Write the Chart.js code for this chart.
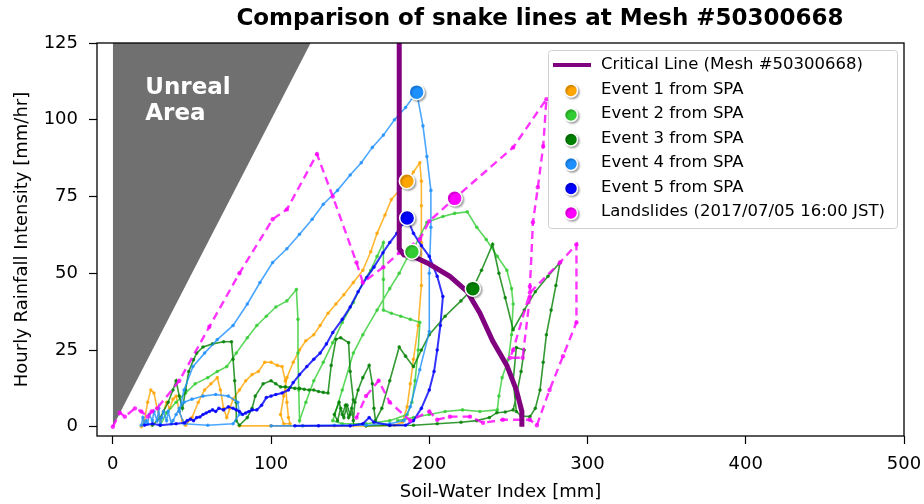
<!DOCTYPE html>
<html><head><meta charset="utf-8">
<script src="https://cdn.jsdelivr.net/npm/chart.js@4.4.1/dist/chart.umd.min.js"></script>
<style>html,body{margin:0;padding:0;background:#fff}#wrap{width:924px;height:504px}</style>
</head><body><div id="wrap"><canvas id="c" width="924" height="504"></canvas></div>
<script>
// ---- data (SWI [mm], hourly rainfall [mm/hr]) ----
const xTicks = [0, 100, 200, 300, 400, 500];
const yTicks = [0, 25, 50, 75, 100, 125];
const unrealX = [0, 125];
const unrealY = [0, 125];
const critX = [181, 181, 184, 190, 200, 213, 224, 232, 240, 249, 255, 258.5, 258.5];
const critY = [125, 58, 56, 55.5, 53, 49, 44, 37, 28, 20, 12, 5, 0];

const e1X = [18,20,22,24,26,28,30,32,34,36,38,40,42,44,46,50,54,58,62,66,68,70,72,74,76,80,84,88,92,96,100,104,107,109,110,111,112,108,106,108,110,114,118,122,127,131,136,141,146,152,158,163,167,172,176,181,186,190,194,195,195,195,195,193,190,188,186,183,178,160,140,120,100,80];
const e1Y = [0,2,8,12,11,6,2,5,8,6,9,10,5,2,0.5,3,8,12,14,16,12,6,3,6,9,12,15,17,18,21,21,20,19.6,15,8,3,1,1,4,10,16,21,25,28,30,33,37,40,43,47,51,57,63,69,74,77,80,83,86,80,72,60,46,33,22,14,6.5,1.5,0.5,0.3,0.3,0.3,0.3,0.3];

const e2X = [30,34,40,46,52,60,66,72,78,85,91,97,103,110,116,117,117,117.5,118,122,127,133,139,145,152,158,163,167,171,171,171,176,182,188,194,193,191,189,186,175,160,145,139,145,152,158,167,175,181,186,189,198.5,208.6,216,224,230,236,243,249,252,253,252,250,246,244,243,232,221,210,200,190,180];
const e2Y = [0.5,4.6,8,11,14,16,18,19.6,24,29,33,36,39,41,44.7,35,24,12,2,8,15,21,27.4,34,40.5,47,51,55.5,60,48,38,37,36,35,34,25,15,8,4,2,1,1,2,12,24,30,38,45,50,55,57,66.6,68.5,69.5,70,65,61,55.5,51,45,40,30,22,16,10,5.5,5,5.5,5,4,3,2];

const e3X = [25,30,35,38,40,42,44,46,48,51,53,57,63,70,75,76,77,78,78,80,85,88,90,95,100,103,106,109,112,115,118,121,124,127,130,133,136,138,141,144,149,150,152,150,148,146,144,142,140,143,145,147,149,151,152,153,155,158,162,164,165,166,170,175,181,185,190,195,200,210,220,227.5,233,240,244,248,253,260,267,275,282.6,280,277,274,272,270,267,263.6,258,255,253,255,260,258,255,253,248,242.7,238,230,220,205,190,175,160];
const e3Y = [0.5,3,8,12,15,10,6,12,18,21.8,24,26,27,27.7,27.7,22,15,8,2,0.5,3,6,10,14,15,14,13,13,12.8,12.5,12.5,12.2,12,12,11.5,11.2,11,20,28.5,29,27.4,18,8.8,4,7,3,6,2,4,8,4,7,3,6,2,8,12,16,20,14,6,2,6,15,26,23,19.6,25,30,36,41,45,51,59.4,50,42,31.6,38,44,49,53.5,46,38,30,21,12,6,3.3,3.5,5,15,25.8,25,18,10,5.5,4.8,4.6,3,2,1.5,1,0.5,0.4,0.3];

const e4X = [18,19,20,21,22,23,25,26,28,29,30,31,32,34,35,37,38,40,42,45,50,57,65,73,79,80,76,60,45,42,45,50.6,58,66,76,85,93,101,110,118,126,133,142,150,157,164,171,178,185,192,196,198.5,201,201,200,200,194,188,184,175,160,140,120,100];
const e4Y = [0.5,3,1,2,1,4,2,5,2,6,1,3,5,2,5,1,2,4,6,8,9,10,10.5,10,8,4,1,0.5,1,5,12,19.6,24,28.4,33,40,47,53.5,58,62.7,67.6,72.5,77,82,86,91,95,100,104,109,98,88,77,65,50,31,18.6,6.5,2,1,0.5,0.5,0.3,0.3];

const e5X = [20,25,30,40,45.5,47,49,51,53,55,57,59,61,63,65,67,70,73,76,78,80,82,84,86,88,91,94,97,100,103,107,111,114,118,122.6,127,131,135,139,145,150,155,160.5,165,170.7,175,179.5,183,186,190,195,200,205,208.6,207,205,203,200,195,190,185,175,165,162,158,150,130,115];
const e5Y = [0.5,1,0.5,1,1.3,2,2.5,2,3,3.2,4,4.5,5,5.5,5,6,5.5,6.5,6,5.5,5,4,4.5,5,5.5,5.5,7,9.5,10,10.5,11,12,14.4,17,19.6,22,24,27,30.7,35,39,44,48.6,52,56.7,60,63,66,68,63,59,55.5,49,42.4,33,25,18,12,6,2,0.5,0.5,1.5,3,1,0.3,0.3,0.3];

const lsX = [0,4.4,7.6,14,18,22,24.6,28,42,61,80,101,110,129,139,154,158,171,181,194,200,216,253,274,272,268.6,265.5,263.6,263.6,259,251,253,263.6,282.6,293,293,284.5,276,268,263.6,246.5,234,225.7,213,205,200,188,175,168,160,154];
const lsY = [0,4.6,3.3,6,5,3.3,5,6,15,32.6,50,67.6,70.8,88.8,75,53.5,47,52,56.7,61,67,74.4,91,106.7,91.4,78,66.6,45.7,42.4,22.5,22.5,25,43.7,53.5,59.4,34,23,12,0.5,2.3,2.3,1.3,3.3,3.3,2.3,5,2,8,15,10,3];

// highlighted points of each snake line
const markX = [185.8, 189, 227.5, 192, 186, 216];
const markY = [80, 57, 45, 109, 68, 74.4];

const labels = ['Critical Line (Mesh #50300668)','Event 1 from SPA','Event 2 from SPA','Event 3 from SPA','Event 4 from SPA','Event 5 from SPA','Landslides (2017/07/05 16:00 JST)'];
const colors = {purple:'#800080', orange:'#FFA500', lime:'#32CD32', green:'#008000', dodger:'#1E90FF', blue:'#0000FF', magenta:'#FF00FF'};

function zip(xs, ys){ return xs.map((x,i)=>({x:x, y:ys[i]})); }
function rgba(hex,a){ const n=parseInt(hex.slice(1),16); return `rgba(${n>>16},${(n>>8)&255},${n&255},${a})`; }

function snake(key, xs, ys, order, extra){
  const c = colors[key];
  return Object.assign({
    data: zip(xs, ys), showLine: true, borderColor: rgba(c,0.8), backgroundColor: rgba(c,0.8),
    borderWidth: 1.6, pointRadius: 1.8, pointBorderWidth: 0, tension: 0, order: order, clip: false
  }, extra||{});
}
const markerKeys = ['orange','lime','green','dodger','blue','magenta'];
const markerSets = markX.map((x,i)=>({
  data:[{x:x,y:markY[i]}], showLine:false, pointRadius:7.5, pointBorderColor:'#fff', pointBorderWidth:1.5,
  pointBackgroundColor: colors[markerKeys[i]], order: 0, isMarker:true
}));

const datasets = [
  ...markerSets,
  {data: zip(critX, critY), showLine:true, borderColor: colors.purple, borderWidth:5, pointRadius:0, order:1, borderCapStyle:'butt'},
  snake('magenta', lsX, lsY, 2, {borderDash:[8,5], borderWidth:2.4, pointRadius:2.2}),
  snake('blue', e5X, e5Y, 3, {borderWidth:2}),
  snake('dodger', e4X, e4Y, 4),
  snake('green', e3X, e3Y, 5),
  snake('lime', e2X, e2Y, 6),
  snake('orange', e1X, e1Y, 7),
  {data: zip(unrealX, unrealY), showLine:true, borderWidth:0, pointRadius:0, fill:'end', backgroundColor:'#707070', borderColor:'#707070', order:20}
];

const FONT = "'DejaVu Sans', sans-serif";

const deco = {
  id:'deco',
  beforeDatasetDraw(chart, args){
    const ds = chart.data.datasets[args.index];
    if (ds.isMarker){ const ctx=chart.ctx; ctx.save(); ctx.shadowColor='rgba(0,0,0,0.3)'; ctx.shadowOffsetX=1.5; ctx.shadowOffsetY=1.5; ctx.shadowBlur=2; }
  },
  afterDatasetDraw(chart, args){
    const ds = chart.data.datasets[args.index];
    if (ds.isMarker){ chart.ctx.restore(); }
    if (ds.fill === 'end'){
      const ctx = chart.ctx, xs = chart.scales.x, ys = chart.scales.y;
      ctx.save(); ctx.fillStyle='#fff'; ctx.font="bold 23px "+FONT; ctx.textAlign='left'; ctx.textBaseline='alphabetic';
      ctx.fillText('Unreal', xs.getPixelForValue(20.5), ys.getPixelForValue(108.5));
      ctx.fillText('Area', xs.getPixelForValue(20.5), ys.getPixelForValue(100));
      ctx.restore();
    }
  },
  afterDraw(chart){
    const ctx = chart.ctx, a = chart.chartArea;
    ctx.save();
    ctx.strokeStyle='#000'; ctx.lineWidth=1.3;
    ctx.strokeRect(a.left, a.top, a.right-a.left, a.bottom-a.top);
    // title
    ctx.fillStyle='#000'; ctx.font="bold 23px "+FONT; ctx.textAlign='center'; ctx.textBaseline='middle';
    ctx.fillText('Comparison of snake lines at Mesh #50300668', 540, 19);
    // legend
    const lx=548, ly=50, lw=349, lh=178;
    ctx.fillStyle='rgba(255,255,255,0.85)'; ctx.strokeStyle='#d0d0d0'; ctx.lineWidth=1;
    ctx.beginPath(); if (ctx.roundRect) ctx.roundRect(lx+0.5,ly+0.5,lw,lh,3); else ctx.rect(lx+0.5,ly+0.5,lw,lh); ctx.fill(); ctx.stroke();
    const keys=['purple',...markerKeys];
    ctx.font="16.5px "+FONT; ctx.textAlign='left'; ctx.textBaseline='middle';
    for (let i=0;i<labels.length;i++){
      const y = ly+15+i*24.5;
      if (i===0){ ctx.strokeStyle=colors.purple; ctx.lineWidth=4; ctx.beginPath(); ctx.moveTo(553,y); ctx.lineTo(591,y); ctx.stroke(); }
      else {
        ctx.save(); ctx.shadowColor='rgba(0,0,0,0.3)'; ctx.shadowOffsetX=1.5; ctx.shadowOffsetY=1.5; ctx.shadowBlur=2;
        ctx.fillStyle=colors[keys[i]]; ctx.strokeStyle='#fff'; ctx.lineWidth=1.5;
        ctx.beginPath(); ctx.arc(571,y+1,6.5,0,Math.PI*2); ctx.fill(); ctx.stroke(); ctx.restore();
      }
      ctx.fillStyle='#000'; ctx.fillText(labels[i], 601, y);
    }
    ctx.restore();
  }
};

new Chart(document.getElementById('c'), {
  type:'scatter',
  data:{datasets},
  plugins:[deco],
  options:{
    responsive:false, animation:false, devicePixelRatio:1,
    layout:{padding:{top:43, right:20, left:0, bottom:0}},
    plugins:{legend:{display:false}, tooltip:{enabled:false}, title:{display:false}},
    scales:{
      x:{type:'linear', min:-10, max:500,
         afterBuildTicks(s){ s.ticks = xTicks.map(v=>({value:v})); },
         afterFit(s){ s.height = 68; s.paddingLeft = 0; s.paddingRight = 0; },
         grid:{display:true, drawOnChartArea:false, drawTicks:true, tickLength:8, color:'#000', tickWidth:1.2},
         border:{display:false},
         ticks:{color:'#000', font:{family:FONT, size:18}, padding:10, maxRotation:0},
         title:{display:true, text:'Soil-Water Index [mm]', color:'#000', font:{family:FONT, size:18}, padding:{top:0,bottom:1}}},
      y:{type:'linear', min:-3, max:125,
         afterBuildTicks(s){ s.ticks = yTicks.map(v=>({value:v})); },
         afterFit(s){ s.width = 97; s.paddingTop = 0; s.paddingBottom = 0; },
         grid:{display:true, drawOnChartArea:false, drawTicks:true, tickLength:8, color:'#000', tickWidth:1.2},
         border:{display:false},
         ticks:{color:'#000', font:{family:FONT, size:18}, padding:11},
         title:{display:true, text:'Hourly Rainfall Intensity [mm/hr]', color:'#000', font:{family:FONT, size:18}, padding:{top:12,bottom:0}}}
    }
  }
});
</script></body></html>
